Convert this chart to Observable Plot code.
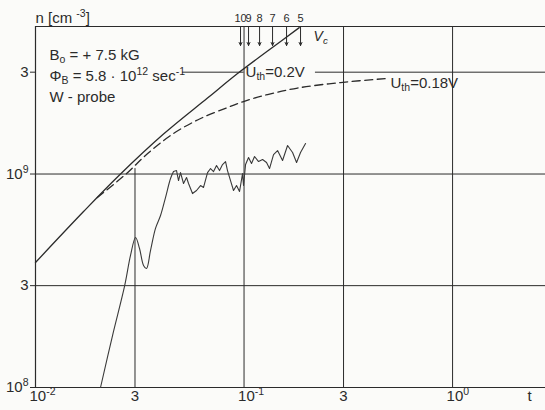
<!DOCTYPE html>
<html><head><meta charset="utf-8">
<script src="https://cdn.jsdelivr.net/npm/d3@7"></script>
<script src="https://cdn.jsdelivr.net/npm/@observablehq/plot@0.6"></script>
<style>body{margin:0;background:#fbfbf9;}</style>
</head><body><div id="chart"></div>
<script>
// ---- data ----
const xDomain = [0.01, 2.79];
const yDomain = [1e8, 4.91e9];

const xTicksMajor = [0.01, 0.1, 1];
const xTickMajorLabels = ["10^{-2}", "10^{-1}", "10^{0}"];
const xTicksMinor = [0.03, 0.3];
const xTickMinorLabels = ["3", "3"];
const yTicks = [1e8, 3e8, 1e9, 3e9];
const yTickLabels = ["10^{8}", "3", "10^{9}", "3"];

// solid curve (U_th = 0.2 V)
const solidT = [0.01, 0.0170, 0.0250, 0.0411, 0.0668, 0.0931, 0.1297, 0.184];
const solidN = [3.85e8, 6.67e8, 9.79e8, 1.539e9, 2.27e9, 2.956e9, 3.768e9, 4.85e9];

// dashed curve (U_th = 0.18 V)
const dashedT = [0.0198, 0.0270, 0.0345, 0.0459, 0.0619, 0.0833, 0.0995, 0.1297, 0.1805, 0.2903, 0.4826];
const dashedN = [7.76e8, 9.95e8, 1.247e9, 1.548e9, 1.82e9, 2.049e9, 2.186e9, 2.357e9, 2.528e9, 2.683e9, 2.802e9];

// measured curve, W-probe: smooth rise ...
const riseT = [0.0205, 0.02341, 0.02672, 0.02855, 0.03018, 0.03154, 0.03296, 0.03406, 0.0356, 0.03762,
  0.03977, 0.04201, 0.04441, 0.0459];
const riseN = [1.0e8, 1.752e8, 2.973e8, 4.153e8, 5.04e8, 4.48e8, 3.73e8, 3.61e8, 4.38e8, 5.56e8,
  6.39e8, 7.76e8, 9.53e8, 1.027e9];
// ... then the noisy part
const noiseT = [0.0459, 0.04745, 0.04851, 0.04959, 0.05127, 0.053, 0.05418,
  0.05662, 0.05918, 0.06186, 0.06394, 0.06683, 0.06909, 0.07142, 0.0738, 0.07629, 0.07887,
  0.08153, 0.08331, 0.08613, 0.08904, 0.09204, 0.09515, 0.09836, 0.09945, 0.1017, 0.1051,
  0.1086, 0.1123, 0.1174, 0.1227, 0.1282, 0.1325, 0.1385, 0.1448, 0.153, 0.1617,
  0.1709, 0.1786, 0.1866, 0.1972];
const noiseN = [1.027e9, 1.038e9, 9.32e8, 1.016e9, 9.03e8, 9.63e8, 9.03e8,
  8.10e8, 8.37e8, 8.83e8, 8.65e8, 1.016e9, 1.061e9, 1.027e9, 1.096e9, 1.038e9, 1.108e9,
  1.144e9, 1.038e9, 9.32e8, 8.37e8, 8.83e8, 8.28e8, 1.005e9, 8.83e8, 1.108e9, 1.195e9,
  1.12e9, 1.208e9, 1.144e9, 1.169e9, 1.132e9, 1.061e9, 1.234e9, 1.288e9, 1.157e9, 1.36e9,
  1.261e9, 1.132e9, 1.261e9, 1.389e9];

// V_c arrows at the top
const vcT = [0.0962, 0.1051, 0.1187, 0.137, 0.1599, 0.1866];
const vcLabels = ["10", "9", "8", "7", "6", "5"];

const infoLines = ["B_{o} = + 7.5 kG", "Φ_{B} = 5.8 · 10^{12} sec^{-1}", "W - probe"];

// ---- build ----
const toRows = (T, N) => T.map((t, i) => ({t, n: N[i]}));
const solid = toRows(solidT, solidN);
const dashed = toRows(dashedT, dashedN);
const rise = toRows(riseT, riseN);
const noise = toRows(noiseT, noiseN);
const xMajMap = new Map(xTicksMajor.map((d, i) => [d, xTickMajorLabels[i]]));
const xMinMap = new Map(xTicksMinor.map((d, i) => [d, xTickMinorLabels[i]]));
const yMap = new Map(yTicks.map((d, i) => [d, yTickLabels[i]]));

const ink = "#2b2b2b";
const FONT = "'Liberation Sans', Arial, sans-serif";

const chart = Plot.plot({
  width: 545, height: 410,
  marginLeft: 35, marginRight: 0, marginTop: 26, marginBottom: 23,
  x: {type: "log", domain: xDomain, label: null},
  y: {type: "log", domain: yDomain, label: null},
  style: {fontFamily: FONT, fontSize: "15px", background: "#fbfbf9", color: ink},
  marks: [
    // grid
    Plot.ruleX([0.1, 0.3, 1], {stroke: ink, strokeWidth: 1}),
    Plot.ruleX([0.03], {y1: () => 1e8, y2: () => 1.06e9, stroke: ink, strokeWidth: 1}),
    Plot.ruleY([3e8, 1e9], {stroke: ink, strokeWidth: 1}),
    Plot.ruleY([{y: 3e9, x1: 0.0507, x2: 0.1}, {y: 3e9, x1: 0.22, x2: xDomain[1]}],
      {y: "y", x1: "x1", x2: "x2", stroke: ink, strokeWidth: 1}),
    // frame
    Plot.ruleY([yDomain[1], yDomain[0]], {stroke: ink, strokeWidth: 1.2}),
    Plot.ruleX([xDomain[0]], {stroke: ink, strokeWidth: 1.2}),
    // curves
    Plot.line(solid, {x: "t", y: "n", stroke: ink, strokeWidth: 1.3, curve: "catmull-rom"}),
    Plot.line(dashed, {x: "t", y: "n", stroke: ink, strokeWidth: 1.3, strokeDasharray: "8,4.5", curve: "catmull-rom"}),
    Plot.line(rise, {x: "t", y: "n", stroke: "#3a3a3a", strokeWidth: 1.1, curve: "catmull-rom"}),
    Plot.line(noise, {x: "t", y: "n", stroke: "#3a3a3a", strokeWidth: 1.1, curve: "linear"}),
    // V_c arrows
    Plot.arrow(vcT, {x1: d => d, x2: d => d, y1: () => yDomain[1], y2: () => 4.0e9,
      stroke: ink, strokeWidth: 1, headLength: 5, headAngle: 50}),
    Plot.text(vcT, {x: d => d, text: (d, i) => vcLabels[i], frameAnchor: "top", lineAnchor: "bottom",
      dy: -5, fontSize: 11, fill: ink}),
    Plot.text(["V_{c}"], {x: () => 0.2155, y: () => 4.22e9, textAnchor: "start", lineAnchor: "bottom",
      fontSize: 14, fontStyle: "italic", fill: ink}),
    // annotations
    Plot.text([infoLines[0]], {frameAnchor: "top-left", dx: 14, dy: 33, textAnchor: "start", lineAnchor: "bottom", fill: ink}),
    Plot.text([infoLines[1]], {frameAnchor: "top-left", dx: 14, dy: 54, textAnchor: "start", lineAnchor: "bottom", fill: ink}),
    Plot.text([infoLines[2]], {frameAnchor: "top-left", dx: 14, dy: 75, textAnchor: "start", lineAnchor: "bottom", fill: ink}),
    Plot.text(["U_{th}=0.2V"], {x: () => 0.1017, y: () => 2.86e9, textAnchor: "start", lineAnchor: "bottom", fill: ink}),
    Plot.text(["U_{th}=0.18V"], {x: () => 0.504, y: () => 2.54e9, textAnchor: "start", lineAnchor: "bottom", fill: ink}),
    Plot.text(["n [cm ^{-3}]"], {frameAnchor: "top-left", dx: 0, dy: -4, textAnchor: "start", lineAnchor: "bottom", fill: ink}),
    Plot.text(["t"], {x: () => 2.34, frameAnchor: "bottom", dy: 13, lineAnchor: "bottom", fill: ink}),
    // axes
    Plot.axisY(yTicks, {tickFormat: d => yMap.get(d), tickSize: 5, tickPadding: 2, label: null, stroke: ink, fill: ink}),
    Plot.axisX(xTicksMajor, {tickFormat: d => xMajMap.get(d), tickSize: 0, tickPadding: 3, textAnchor: "start", dx: -6, label: null, fill: ink}),
    Plot.axisX(xTicksMinor, {tickFormat: d => xMinMap.get(d), tickSize: 0, tickPadding: 3, label: null, fill: ink})
  ]
});

// turn _{..} and ^{..} into real sub/superscripts
function richify(root) {
  const NS = "http://www.w3.org/2000/svg";
  for (const el of root.querySelectorAll("text")) {
    const s = el.textContent;
    if (!/[_^]\{/.test(s)) continue;
    while (el.firstChild) el.removeChild(el.firstChild);
    const re = /([_^])\{([^}]*)\}|([^_^]+)/g;
    let m, shift = 0;
    while ((m = re.exec(s))) {
      const ts = document.createElementNS(NS, "tspan");
      if (m[3] !== undefined) {
        ts.textContent = m[3];
        if (shift) { ts.setAttribute("dy", `${-shift}em`); shift = 0; }
      } else {
        const fs = 0.7;
        const off = m[1] === "^" ? -0.4 : 0.25;
        ts.setAttribute("font-size", "70%");
        ts.setAttribute("dy", `${(off - shift) / fs}em`);
        shift = off;
        ts.textContent = m[2];
      }
      el.appendChild(ts);
    }
  }
}
richify(chart);
document.getElementById("chart").appendChild(chart);
</script>
</body></html>
